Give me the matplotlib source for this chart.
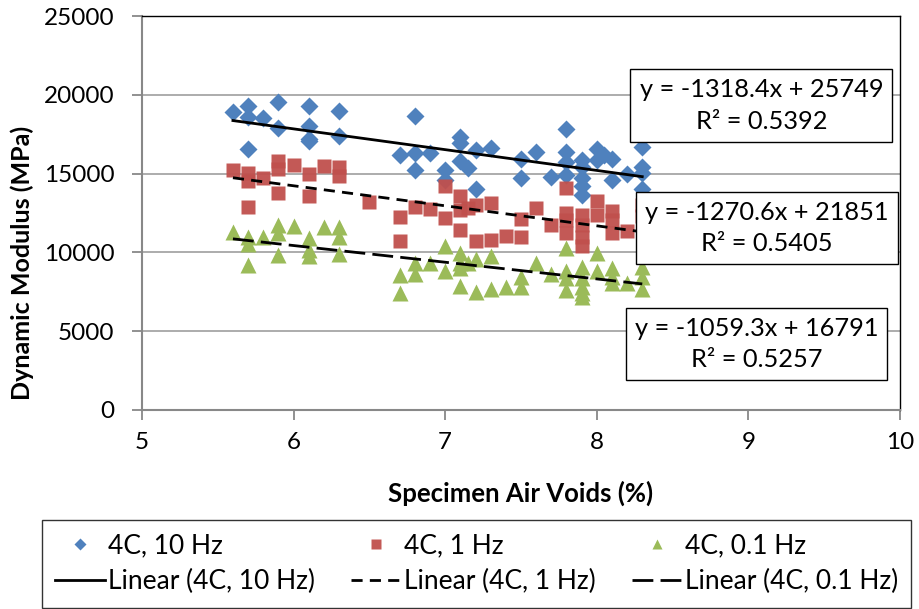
import numpy as np
import matplotlib.pyplot as plt

plt.rcParams['font.family'] = ['Lato', 'DejaVu Sans']

# 4C, 10 Hz
x_10hz = [5.6, 5.7, 5.7, 5.7, 5.8, 5.9, 5.9, 6.1, 6.1, 6.1, 6.1, 6.3, 6.3,
          6.7, 6.8, 6.8, 6.8, 6.9, 7.0, 7.0, 7.1, 7.1, 7.1, 7.15, 7.2, 7.2, 7.3,
          7.5, 7.5, 7.6, 7.7, 7.8, 7.8, 7.8, 7.8, 7.9, 7.9, 7.9, 7.9, 7.9,
          8.0, 8.0, 8.05, 8.1, 8.1, 8.2, 8.3, 8.3, 8.3, 8.3]
e_10hz = [18900, 19300, 18600, 16550, 18500, 19550, 17900, 19300, 18000, 17200, 17050, 18950, 17400,
          16200, 18650, 16300, 15250, 16300, 15200, 14600, 17300, 16950, 15800, 15350, 16500, 14000, 16600,
          15950, 14700, 16400, 14800, 17800, 16350, 15750, 14900, 15850, 15400, 14750, 14200, 13650,
          16550, 15850, 16150, 15950, 14600, 14950, 16700, 15450, 15050, 14050]

# 4C, 1 Hz
x_1hz = [5.6, 5.7, 5.7, 5.7, 5.8, 5.9, 5.9, 5.9, 6.0, 6.1, 6.1, 6.2, 6.3, 6.3,
         6.5, 6.7, 6.7, 6.8, 6.9, 7.0, 7.0, 7.1, 7.1, 7.1, 7.15, 7.2, 7.2, 7.3, 7.3,
         7.4, 7.5, 7.5, 7.6, 7.7, 7.8, 7.8, 7.8, 7.8, 7.9, 7.9, 7.9, 7.9,
         8.0, 8.0, 8.1, 8.1, 8.1, 8.2, 8.3, 8.3]
e_1hz = [15250, 15050, 14500, 12900, 14700, 15800, 15300, 13800, 15550, 14950, 13600, 15500, 15400, 14850,
         13200, 12250, 10700, 12850, 12750, 14200, 12200, 13550, 12700, 11400, 12800, 13000, 10700, 13150, 10800,
         11050, 12150, 11000, 12800, 11750, 14100, 12500, 12050, 11200, 12350, 11750, 11000, 10400,
         13250, 12400, 12650, 12050, 11250, 11350, 13000, 12300]

# 4C, 0.1 Hz
x_01hz = [5.6, 5.7, 5.7, 5.7, 5.8, 5.9, 5.9, 5.9, 6.0, 6.1, 6.1, 6.1, 6.2, 6.3, 6.3, 6.3,
          6.7, 6.7, 6.8, 6.8, 6.9, 7.0, 7.0, 7.1, 7.1, 7.1, 7.1, 7.15, 7.2, 7.2, 7.3, 7.3,
          7.4, 7.5, 7.5, 7.6, 7.7, 7.8, 7.8, 7.8, 7.8, 7.9, 7.9, 7.9, 7.9, 7.9,
          8.0, 8.0, 8.1, 8.1, 8.1, 8.2, 8.3, 8.3, 8.3]
e_01hz = [11300, 11000, 10550, 9200, 10950, 11750, 11200, 9850, 11650, 10900, 10150, 9750, 11600, 11600, 11000, 9900,
          8550, 7400, 9300, 8650, 9350, 10400, 8800, 9950, 9300, 9000, 7850, 9300, 9550, 7500, 9800, 7700,
          7800, 8450, 7800, 9300, 8650, 10300, 8850, 8350, 7600, 9100, 8350, 7800, 7450, 7200,
          9950, 8800, 9000, 8450, 8050, 8050, 9100, 8450, 7700]

# linear trend coefficients (slope, intercept, R²)
fits = [(-1318.4, 25749, 0.5392), (-1270.6, 21851, 0.5405), (-1059.3, 16791, 0.5257)]

blue, red, green = '#4F81BD', '#C0504D', '#9BBB59'
grey = '#888888'

fig = plt.figure(figsize=(9.19, 6.09), dpi=100)
ax = fig.add_axes([0.1545, 0.3268, 0.8248, 0.6469])

h1, = ax.plot(x_10hz, e_10hz, 'D', color=blue, ms=9.5, mec='none', label='4C, 10 Hz')
h2, = ax.plot(x_1hz, e_1hz, 's', color=red, ms=10.5, mec='none', alpha=0.95, label='4C, 1 Hz')
h3, = ax.plot(x_01hz, e_01hz, '^', color=green, ms=11, mec='none', label='4C, 0.1 Hz')

styles = ['-', (0, (4, 2.6)), (0, (7.5, 2.6))]
names = ['4C, 10 Hz', '4C, 1 Hz', '4C, 0.1 Hz']
xs = [x_10hz, x_1hz, x_01hz]
lines = []
for (m, b, r2), ls, name, xd in zip(fits, styles, names, xs):
    xx = np.array([min(xd), max(xd)])
    ln, = ax.plot(xx, m * xx + b, color='black', lw=2.0, ls=ls, label='Linear (%s)' % name)
    lines.append(ln)

# equation boxes
box_pos = [(9.086, 19320), (9.123, 11548), (9.053, 4188)]
for (m, b, r2), (tx, ty) in zip(fits, box_pos):
    ax.text(tx, ty, 'y = %.1fx + %d\nR² = %.4f' % (m, b, r2), ha='center', va='center',
            multialignment='center', fontsize=18.3, linespacing=1.45, zorder=5,
            bbox=dict(boxstyle='square,pad=0.36', fc='white', ec='black', lw=1.0))

ax.set_xlim(5, 10)
ax.set_ylim(0, 25000)
ax.set_xticks([5, 6, 7, 8, 9, 10])
ax.set_yticks(range(0, 25001, 5000))
ax.yaxis.grid(True, color='#A6A6A6', lw=1.3)
ax.set_axisbelow(True)

for s in ['top', 'right']:
    ax.spines[s].set_color('black')
    ax.spines[s].set_linewidth(1.0)
for s in ['left', 'bottom']:
    ax.spines[s].set_color(grey)
    ax.spines[s].set_linewidth(1.5)
ax.tick_params(axis='both', direction='out', color=grey, width=1.3, length=7, labelsize=17.5)
ax.tick_params(axis='y', pad=13)
ax.tick_params(axis='x', pad=9)

ax.set_xlabel('Specimen Air Voids (%)', fontsize=18.5, fontweight='bold', labelpad=20)
ax.set_ylabel('Dynamic Modulus (MPa)', fontsize=18, fontweight='bold')
ax.yaxis.set_label_coords(-0.143, 0.373)

handles = [h1, lines[0], h2, lines[1], h3, lines[2]]
leg = fig.legend(handles=handles, labels=[h.get_label() for h in handles], ncol=3,
                 loc='upper left', bbox_to_anchor=(0.0457, 0.0, 0.946, 0.146), mode='expand',
                 fontsize=19, frameon=True, fancybox=False, edgecolor='black', handlelength=1.9,
                 handletextpad=0.1, markerscale=0.65, borderaxespad=0.0, labelspacing=0.42,
                 borderpad=0.5, columnspacing=1.0)
leg.get_frame().set_linewidth(1.0)

fig.savefig('out.png', dpi=100)
